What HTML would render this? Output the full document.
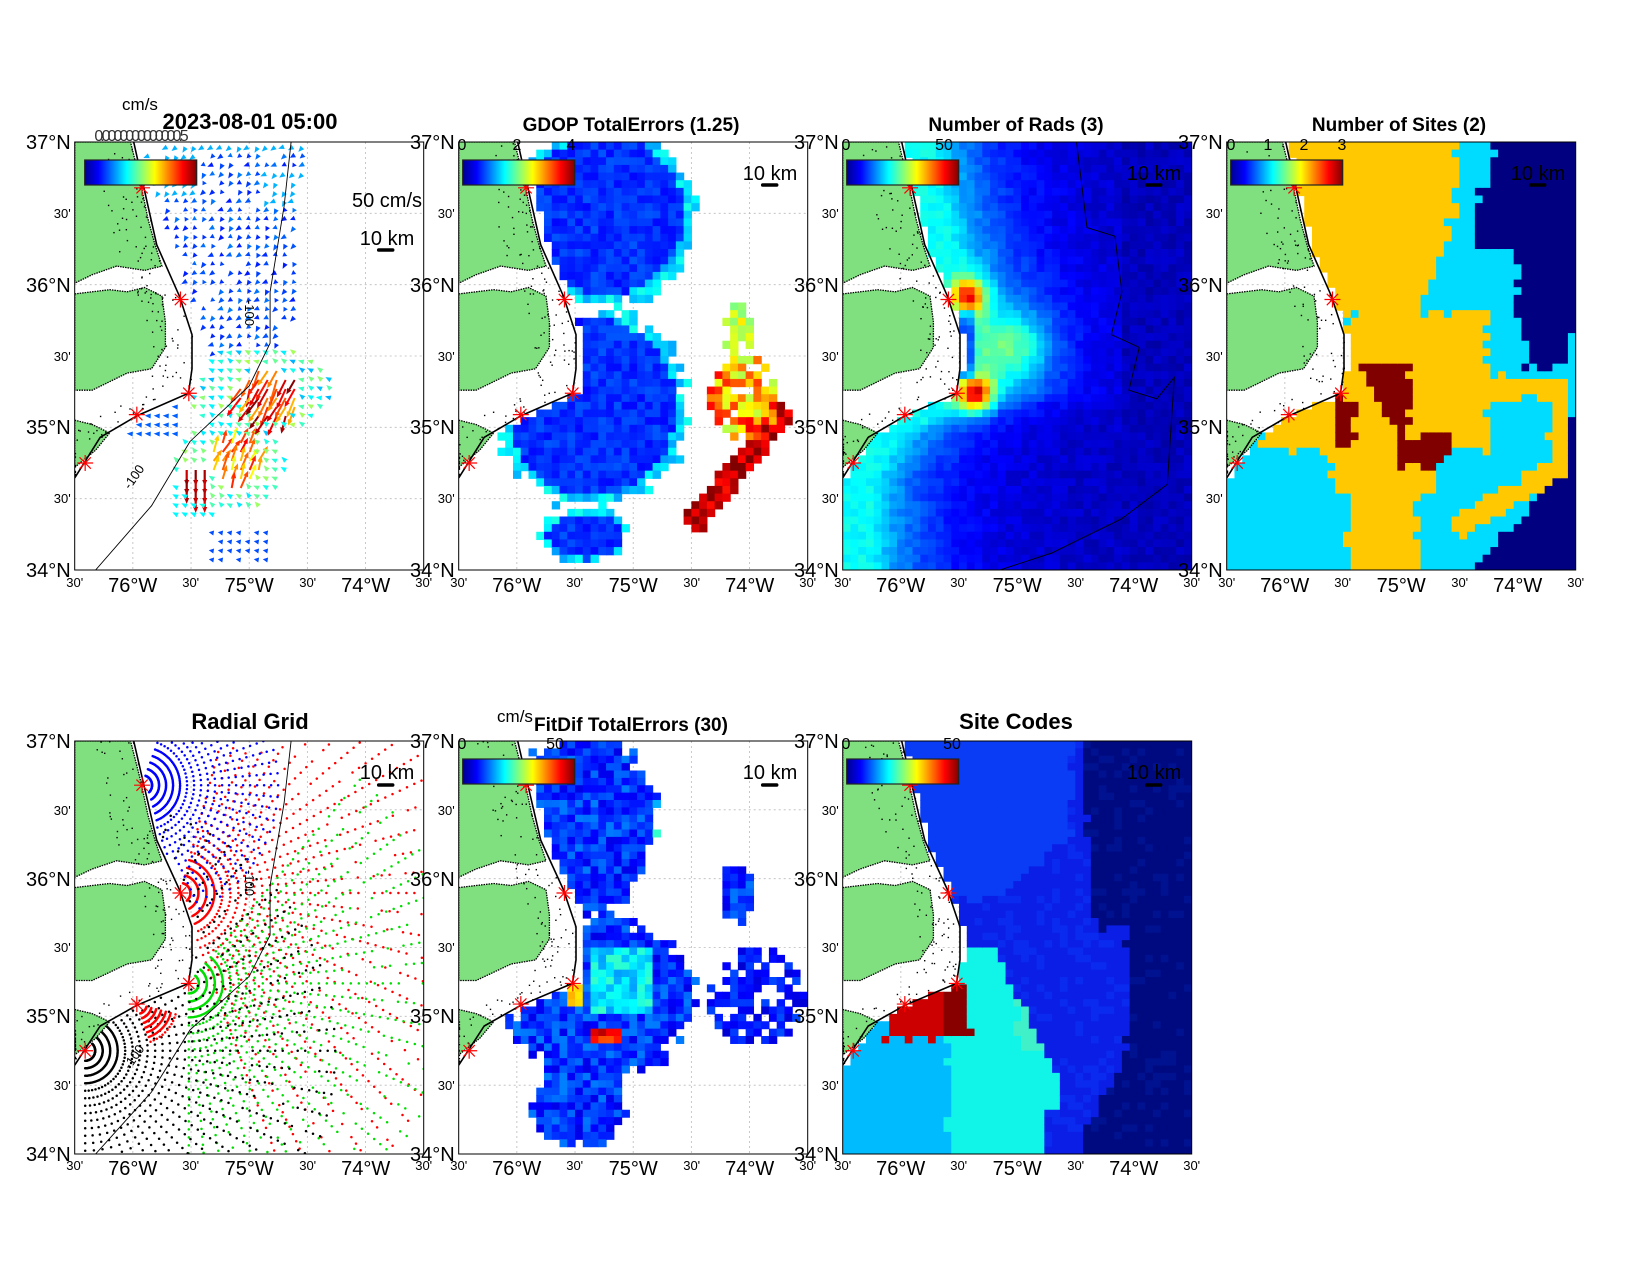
<!DOCTYPE html>
<html><head><meta charset="utf-8"><style>
html,body{margin:0;padding:0;background:#fff;}
svg{display:block;font-family:"Liberation Sans",sans-serif;}
.t{font-weight:bold;font-size:20px;text-anchor:middle;}
.yl{font-size:20px;text-anchor:end;}
.ys{font-size:13px;text-anchor:end;}
.xl{font-size:20px;text-anchor:middle;}
.xs{font-size:13px;text-anchor:middle;}
.km{font-size:20px;text-anchor:middle;}
.cb{font-size:16px;text-anchor:middle;}
</style></head><body>
<svg id="s" width="1650" height="1275" viewBox="0 0 1650 1275" xmlns="http://www.w3.org/2000/svg">
<defs>
<linearGradient id="jet" x1="0" x2="1" y1="0" y2="0">
<stop offset="0" stop-color="#00008f"/><stop offset="0.125" stop-color="#0000ff"/><stop offset="0.375" stop-color="#00ffff"/><stop offset="0.625" stop-color="#ffff00"/><stop offset="0.875" stop-color="#ff0000"/><stop offset="1" stop-color="#800000"/>
</linearGradient>
</defs>
<g id="gfx"></g>
<g id="txt">
<text class="t" x="250" y="129" style="font-size:22px">2023-08-01 05:00</text>
<text x="140" y="110" style="font-size:17px;text-anchor:middle">cm/s</text>
<text x="140" y="141" style="font-size:16px;text-anchor:middle;fill:#333;letter-spacing:-3px">0.0000000000000.5</text>
<text class="t" x="631" y="131" style="font-size:19px">GDOP TotalErrors (1.25)</text>
<text class="t" x="1016" y="131" style="font-size:19px">Number of Rads (3)</text>
<text class="t" x="1399" y="131" style="font-size:19px">Number of Sites (2)</text>
<text class="t" x="250" y="729" style="font-size:22px">Radial Grid</text>
<text class="t" x="631" y="731" style="font-size:19px">FitDif TotalErrors (30)</text>
<text x="515" y="722" style="font-size:17px;text-anchor:middle">cm/s</text>
<text class="t" x="1016" y="729" style="font-size:22px">Site Codes</text>
<text class="cb" x="462" y="150">0</text><text class="cb" x="517" y="150">2</text><text class="cb" x="571" y="150">4</text>
<text class="cb" x="846" y="150">0</text><text class="cb" x="944" y="150">50</text>
<text class="cb" x="1231" y="150">0</text><text class="cb" x="1268" y="150">1</text><text class="cb" x="1304" y="150">2</text><text class="cb" x="1342" y="150">3</text>
<text class="cb" x="462" y="749">0</text><text class="cb" x="555" y="749">50</text>
<text class="cb" x="846" y="749">0</text><text class="cb" x="952" y="749">50</text>
<text class="km" x="387" y="207">50 cm/s</text>
<text class="km" x="387" y="245">10 km</text>
<text class="km" x="770" y="180">10 km</text>
<text class="km" x="1154" y="180">10 km</text>
<text class="km" x="1538" y="180">10 km</text>
<text class="km" x="387" y="779">10 km</text>
<text class="km" x="770" y="779">10 km</text>
<text class="km" x="1154" y="779">10 km</text>
<g transform="translate(74.7,142)"><text class="yl" x="-4" y="7">37°N</text><text class="ys" x="-4" y="76">30'</text><text class="yl" x="-4" y="150">36°N</text><text class="ys" x="-4" y="219">30'</text><text class="yl" x="-4" y="292">35°N</text><text class="ys" x="-4" y="361">30'</text><text class="yl" x="-4" y="435">34°N</text></g>
<g transform="translate(458.7,142)"><text class="yl" x="-4" y="7">37°N</text><text class="ys" x="-4" y="76">30'</text><text class="yl" x="-4" y="150">36°N</text><text class="ys" x="-4" y="219">30'</text><text class="yl" x="-4" y="292">35°N</text><text class="ys" x="-4" y="361">30'</text><text class="yl" x="-4" y="435">34°N</text></g>
<g transform="translate(842.7,142)"><text class="yl" x="-4" y="7">37°N</text><text class="ys" x="-4" y="76">30'</text><text class="yl" x="-4" y="150">36°N</text><text class="ys" x="-4" y="219">30'</text><text class="yl" x="-4" y="292">35°N</text><text class="ys" x="-4" y="361">30'</text><text class="yl" x="-4" y="435">34°N</text></g>
<g transform="translate(1226.7,142)"><text class="yl" x="-4" y="7">37°N</text><text class="ys" x="-4" y="76">30'</text><text class="yl" x="-4" y="150">36°N</text><text class="ys" x="-4" y="219">30'</text><text class="yl" x="-4" y="292">35°N</text><text class="ys" x="-4" y="361">30'</text><text class="yl" x="-4" y="435">34°N</text></g>
<g transform="translate(74.7,741)"><text class="yl" x="-4" y="7">37°N</text><text class="ys" x="-4" y="74">30'</text><text class="yl" x="-4" y="145">36°N</text><text class="ys" x="-4" y="211">30'</text><text class="yl" x="-4" y="282">35°N</text><text class="ys" x="-4" y="349">30'</text><text class="yl" x="-4" y="420">34°N</text></g>
<g transform="translate(458.7,741)"><text class="yl" x="-4" y="7">37°N</text><text class="ys" x="-4" y="74">30'</text><text class="yl" x="-4" y="145">36°N</text><text class="ys" x="-4" y="211">30'</text><text class="yl" x="-4" y="282">35°N</text><text class="ys" x="-4" y="349">30'</text><text class="yl" x="-4" y="420">34°N</text></g>
<g transform="translate(842.7,741)"><text class="yl" x="-4" y="7">37°N</text><text class="ys" x="-4" y="74">30'</text><text class="yl" x="-4" y="145">36°N</text><text class="ys" x="-4" y="211">30'</text><text class="yl" x="-4" y="282">35°N</text><text class="ys" x="-4" y="349">30'</text><text class="yl" x="-4" y="420">34°N</text></g>
<g transform="translate(74.7,142)"><text class="xs" x="0" y="445">30'</text><text class="xl" x="58" y="450">76°W</text><text class="xs" x="116" y="445">30'</text><text class="xl" x="174.5" y="450">75°W</text><text class="xs" x="233" y="445">30'</text><text class="xl" x="291" y="450">74°W</text><text class="xs" x="349" y="445">30'</text></g>
<g transform="translate(458.7,142)"><text class="xs" x="0" y="445">30'</text><text class="xl" x="58" y="450">76°W</text><text class="xs" x="116" y="445">30'</text><text class="xl" x="174.5" y="450">75°W</text><text class="xs" x="233" y="445">30'</text><text class="xl" x="291" y="450">74°W</text><text class="xs" x="349" y="445">30'</text></g>
<g transform="translate(842.7,142)"><text class="xs" x="0" y="445">30'</text><text class="xl" x="58" y="450">76°W</text><text class="xs" x="116" y="445">30'</text><text class="xl" x="174.5" y="450">75°W</text><text class="xs" x="233" y="445">30'</text><text class="xl" x="291" y="450">74°W</text><text class="xs" x="349" y="445">30'</text></g>
<g transform="translate(1226.7,142)"><text class="xs" x="0" y="445">30'</text><text class="xl" x="58" y="450">76°W</text><text class="xs" x="116" y="445">30'</text><text class="xl" x="174.5" y="450">75°W</text><text class="xs" x="233" y="445">30'</text><text class="xl" x="291" y="450">74°W</text><text class="xs" x="349" y="445">30'</text></g>
<g transform="translate(74.7,741)"><text class="xs" x="0" y="429">30'</text><text class="xl" x="58" y="434">76°W</text><text class="xs" x="116" y="429">30'</text><text class="xl" x="174.5" y="434">75°W</text><text class="xs" x="233" y="429">30'</text><text class="xl" x="291" y="434">74°W</text><text class="xs" x="349" y="429">30'</text></g>
<g transform="translate(458.7,741)"><text class="xs" x="0" y="429">30'</text><text class="xl" x="58" y="434">76°W</text><text class="xs" x="116" y="429">30'</text><text class="xl" x="174.5" y="434">75°W</text><text class="xs" x="233" y="429">30'</text><text class="xl" x="291" y="434">74°W</text><text class="xs" x="349" y="429">30'</text></g>
<g transform="translate(842.7,741)"><text class="xs" x="0" y="429">30'</text><text class="xl" x="58" y="434">76°W</text><text class="xs" x="116" y="429">30'</text><text class="xl" x="174.5" y="434">75°W</text><text class="xs" x="233" y="429">30'</text><text class="xl" x="291" y="434">74°W</text><text class="xs" x="349" y="429">30'</text></g>
<text x="245" y="300" style="font-size:13px" transform="rotate(90 245 300)">-100</text>
<text x="130" y="490" style="font-size:13px" transform="rotate(-55 130 490)">-100</text>
<text x="245" y="870" style="font-size:13px" transform="rotate(90 245 870)">-100</text>
<text x="130" y="1070" style="font-size:13px" transform="rotate(-55 130 1070)">-100</text>
</g>
</svg>
<script>
(function(){
const NS='http://www.w3.org/2000/svg';
const root=document.getElementById('gfx');
const defs=document.querySelector('defs');
function el(tag,a,p){const e=document.createElementNS(NS,tag);for(const k in a)e.setAttribute(k,a[k]);(p||root).appendChild(e);return e;}
let seed=12345;function rnd(){seed=(seed*16807)%2147483647;return (seed-1)/2147483646;}
function jet(t){t=Math.max(0,Math.min(1,t));const c=v=>Math.max(0,Math.min(1,v));const r=c(1.5-Math.abs(4*t-3)),g=c(1.5-Math.abs(4*t-2)),b=c(1.5-Math.abs(4*t-1));return 'rgb('+(r*255|0)+','+(g*255|0)+','+(b*255|0)+')';}
const C=[[0.169,0],[0.197,0.103],[0.235,0.24],[0.30,0.36],[0.336,0.45],[0.336,0.53],[0.326,0.587],[0.178,0.64],[0.073,0.69],[0,0.785]];
function coastX(fy){if(fy>0.785)return -1;for(let i=0;i<C.length-1;i++){const a=C[i],b=C[i+1];if(fy>=a[1]&&fy<=b[1]){return a[0]+(b[0]-a[0])*(fy-a[1])/(b[1]-a[1]);}}return -1;}
function water(fx,fy,m){return fx>coastX(fy)+(m||0.02);}
const W=349;
const P=[{x:74.7,y:142,h:428},{x:458.7,y:142,h:428},{x:842.7,y:142,h:428},{x:1226.7,y:142,h:428},{x:74.7,y:741,h:413},{x:458.7,y:741,h:413},{x:842.7,y:741,h:413}];
const L1=[[0,0],[0.16,0],[0.175,0.05],[0.19,0.1],[0.21,0.18],[0.23,0.24],[0.25,0.29],[0.2,0.3],[0.12,0.29],[0.05,0.31],[0,0.33]];
const L2=[[0,0.355],[0.05,0.35],[0.1,0.345],[0.15,0.35],[0.2,0.34],[0.25,0.36],[0.26,0.42],[0.26,0.48],[0.22,0.53],[0.15,0.54],[0.1,0.56],[0.05,0.58],[0,0.58]];
const L3=[[0,0.65],[0.05,0.66],[0.1,0.68],[0.06,0.72],[0,0.76]];
const BATH=[[0.62,0],[0.60,0.15],[0.56,0.35],[0.56,0.47],[0.5,0.57],[0.33,0.7],[0.22,0.85],[0.06,1.0]];
const STARS=[[0.193,0.107],[0.303,0.368],[0.327,0.587],[0.178,0.637],[0.03,0.75]];
function blob(fx,fy,cx,cy,rx,ry){const dx=(fx-cx)/rx,dy=(fy-cy)/ry;return dx*dx+dy*dy;}
function pts(arr,p){return arr.map(q=>(p.x+q[0]*W).toFixed(1)+','+(p.y+q[1]*p.h).toFixed(1)).join(' ');}
function heat(p,g,fn,nx,ny){const cw=W/nx,ch=p.h/ny;for(let i=0;i<nx;i++)for(let j=0;j<ny;j++){const fx=(i+0.5)/nx,fy=(j+0.5)/ny;const c=fn(fx,fy);if(c)el('rect',{x:(p.x+i*cw).toFixed(2),y:(p.y+j*ch).toFixed(2),width:(cw+0.6).toFixed(2),height:(ch+0.6).toFixed(2),fill:c},g);}}

function base(k,opts,draw){const p=P[k];const cid='c'+k;const cp=el('clipPath',{id:cid},defs);el('rect',{x:p.x,y:p.y,width:W,height:p.h},cp);
 const g=el('g',{'clip-path':'url(#'+cid+')'});
 for(let i=1;i<6;i++){el('line',{x1:p.x+i*W/6,y1:p.y,x2:p.x+i*W/6,y2:p.y+p.h,stroke:'#bbb','stroke-width':0.8,'stroke-dasharray':'2 3'},g);el('line',{x1:p.x,y1:p.y+i*p.h/6,x2:p.x+W,y2:p.y+i*p.h/6,stroke:'#bbb','stroke-width':0.8,'stroke-dasharray':'2 3'},g);}
 if(draw)draw(p,g);
 [L1,L2,L3].forEach(L=>{el('polygon',{points:pts(L,p),fill:'#80e080',stroke:'#000','stroke-width':1.3,'stroke-dasharray':'1.5 1'},g);});
 for(let n=0;n<140;n++){const fy=rnd()*0.78,cx=coastX(fy);const fx=Math.max(0,cx-rnd()*0.12);el('rect',{x:p.x+fx*W,y:p.y+fy*p.h,width:1.4,height:1.4,fill:'#000'},g);}
 el('polyline',{points:pts(C,p),fill:'none',stroke:'#000','stroke-width':1.6},g);
 if(opts.bath)el('polyline',{points:pts(BATH,p),fill:'none',stroke:'#000','stroke-width':0.9},g);
 STARS.forEach(s=>{const x=p.x+s[0]*W,y=p.y+s[1]*p.h;for(let a=0;a<4;a++){const an=a*Math.PI/4;el('line',{x1:x-8*Math.cos(an),y1:y-8*Math.sin(an),x2:x+8*Math.cos(an),y2:y+8*Math.sin(an),stroke:'#f00','stroke-width':1.2},g);}});
 if(opts.cb!==false){const ox=opts.cbx||4;el('rect',{x:p.x+ox,y:p.y+18,width:112,height:25,fill:'url(#jet)',stroke:'#222','stroke-width':1.2});}
 if(opts.bar)el('line',{x1:p.x+W-45,y1:p.y+opts.bar,x2:p.x+W-31,y2:p.y+opts.bar,stroke:'#000','stroke-width':3.5,'stroke-linecap':'round'});
 el('rect',{x:p.x,y:p.y,width:W,height:p.h,fill:'none',stroke:'#000','stroke-width':1});
}

base(0,{bath:true,cbx:10,bar:108},function(p,g){
 function arrow(x,y,ang,len,col,w){const dx=Math.cos(ang),dy=Math.sin(ang);const tx=x+dx*len,ty=y+dy*len;
  if(len>9)el('line',{x1:x,y1:y,x2:tx-dx*4,y2:ty-dy*4,stroke:col,'stroke-width':w},g);
  const hx=tx-dx*Math.min(6,len),hy=ty-dy*Math.min(6,len);
  el('polygon',{points:tx.toFixed(1)+','+ty.toFixed(1)+' '+(hx-dy*2.5).toFixed(1)+','+(hy+dx*2.5).toFixed(1)+' '+(hx+dy*2.5).toFixed(1)+','+(hy-dx*2.5).toFixed(1),fill:col},g);}
 for(let gx=4;gx<W;gx+=9)for(let gy=4;gy<p.h;gy+=9){const fx=gx/W,fy=gy/p.h;if(!water(fx,fy,0.04))continue;
  const x=p.x+gx,y=p.y+gy;
  const s1=blob(fx,fy,0.53,0.58,0.2,0.1),s2=blob(fx,fy,0.45,0.76,0.15,0.1);
  if(s1<1.1){const hot=blob(fx,fy,0.56,0.59,0.09,0.06)<1;if(hot)arrow(x,y,1.75+rnd()*0.5,16+rnd()*8,jet(0.65+rnd()*0.35),2);else arrow(x,y,3.3+rnd()*0.6,6,jet(0.3+rnd()*0.25),1);continue;}
  if(s2<1.1){const hot=blob(fx,fy,0.46,0.75,0.07,0.06)<1;const red=fx>0.3&&fx<0.39&&fy>0.75&&fy<0.83;if(red)arrow(x,y,1.57,16,jet(0.9+rnd()*0.1),2.2);else if(hot)arrow(x,y,-1.4+rnd()*0.5,14+rnd()*6,jet(0.6+rnd()*0.3),2);else arrow(x,y,3.5+rnd()*0.6,6,jet(0.35+rnd()*0.2),1);continue;}
  if(fy<0.55&&fx>0.2&&fx<(fy<0.1?0.68:0.64)&&!(fy>0.42&&(fx<0.3||fx>0.58))){if(rnd()<0.12)continue;const strong=(fy<0.03)||(fy>0.07&&fy<0.14&&fx>0.55)||(fy<0.12&&fx<0.35);arrow(x,y,2.0+rnd()*0.8,strong?8:4+rnd()*3,jet(strong?0.3:0.15+rnd()*0.1),1);continue;}
  if(fx>0.16&&fx<0.3&&fy>0.6&&fy<0.69){arrow(x,y,3.2,6,jet(0.22),1);continue;}
  if(fx>0.28&&fx<0.42&&fy>0.8&&fy<0.88){arrow(x,y,3.6,6,jet(0.37),1);continue;}
  if(fx>0.38&&fx<0.56&&fy>0.91&&fy<0.98&&rnd()>0.3){arrow(x,y,3.3,5,jet(0.2),1);continue;}
 }
});

base(1,{bar:43},function(p,g){seed=777;heat(p,g,function(fx,fy){if(!water(fx,fy,0.02))return null;const n=rnd()*0.35;
 const a=blob(fx,fy,0.42,0.17,0.25,0.21),b=blob(fx,fy,0.38,0.62,0.27,0.23),c=blob(fx,fy,0.36,0.92,0.12,0.06);
 const m=Math.min(a,b,c);
 if(m<1+n-0.15){return jet(m>0.8?0.28+rnd()*0.12:0.13+rnd()*0.08);}
 const d=blob(fx,fy,0.82,0.6,0.1,0.1);if(d<1&&rnd()>0.2)return jet(0.55+rnd()*0.35);
 const f=blob(fx,fy,0.8,0.45,0.04,0.07);if(f<1&&rnd()>0.3)return jet(0.5+rnd()*0.15);
 const t=((fx-0.66)*0.28+(fy-0.9)*(-0.28))/(0.28*0.28*2);const px=0.66+t*0.28,py=0.9-t*0.28;
 if(t>0&&t<1){const dd=Math.hypot(fx-px,fy-py);if(dd<0.03)return jet(0.85+rnd()*0.15);}
 return null;},45,56);});

base(2,{bar:43},function(p,g){seed=999;heat(p,g,function(fx,fy){if(!water(fx,fy,0.01))return null;const cx=Math.max(coastX(fy),0);const d=fx-cx;
 let t=0.06+0.32*Math.exp(-Math.max(0,d-0.08)/0.18)*(d<0.05&&fy>0.4&&fy<0.55?0.4:1);
 t+=0.5*Math.exp(-blob(fx,fy,0.36,0.36,0.05,0.04))+0.55*Math.exp(-blob(fx,fy,0.38,0.59,0.05,0.04))+0.2*Math.exp(-blob(fx,fy,0.5,0.48,0.1,0.08));
 if(fx>0.8)t=Math.min(t,0.06);t+=(rnd()-0.5)*0.05;return jet(t);},45,56);
 el('polyline',{points:pts([[0.67,0],[0.7,0.2],[0.78,0.22],[0.8,0.35],[0.77,0.45],[0.85,0.48],[0.82,0.58],[0.9,0.6],[0.95,0.55],[0.93,0.8],[0.8,0.88],[0.6,0.96],[0.45,1]],p),fill:'none',stroke:'#000','stroke-width':0.9},g);});

base(3,{bar:43},function(p,g){seed=4242;const OR='#ffc800',CY='#00dcff',NV='#000080',DR='#800000';heat(p,g,function(fx0,fy0){const fx=fx0+(rnd()-0.5)*0.02,fy=fy0+(rnd()-0.5)*0.015;if(!water(fx0,fy0,0.01))return null;
 if((fx>0.38&&fx<0.53&&fy>0.52&&fy<0.67&&fx>0.38+(fy-0.52)*0.6)||(fx>0.31&&fx<0.37&&fy>0.6&&fy<0.72)||(fx>0.5&&fx<0.63&&fy>0.69&&fy<0.76))return DR;
 let nav=false;if(fy<0.1)nav=fx>0.76;else if(fy<0.25)nav=fx>0.72;else if(fy<0.45)nav=fx>0.83;else if(fy<0.53)nav=fx>0.86&&fx<0.97;if(fy>0.64&&fx>0.98)nav=true;if(fy>0.75&&fx>1-(fy-0.75)*1.2)nav=true;if(nav)return NV;
 if(fy<0.4&&fx<0.66-0.45*Math.max(0,fy-0.15))return OR;
 if(fy>=0.4&&fy<0.72&&fx<0.75&&fx>0.35-(fy-0.43)*1.0)return OR;
 if(fy>=0.7&&fy<0.82&&fx>0.3&&fx<0.6)return OR;
 if(fy>=0.82&&fx>0.35&&fx<0.55)return OR;
 if((fy>0.55&&fy<0.6&&fx>0.75&&fx<0.98)||(fx>0.93&&fx<0.98&&fy>0.55&&fy<0.75))return OR;
 const t=((fx-0.98)*(-0.33)+(fy-0.75)*0.15)/(0.33*0.33+0.15*0.15);if(t>0&&t<1&&Math.hypot(fx-(0.98-0.33*t),fy-(0.75+0.15*t))<0.025)return OR;
 return CY;},45,56);});

base(4,{bath:true,cb:false,bar:44},function(p,g){seed=55;
 const S=[{i:1,c:'#ff0000',a0:-75,a1:70,rm:330,rs:8,as:5},{i:2,c:'#00dd00',a0:-50,a1:90,rm:270,rs:8,as:5},{i:4,c:'#000000',a0:-90,a1:90,rm:250,rs:7.5,as:5},{i:0,c:'#0000ff',a0:-70,a1:80,rm:140,rs:7,as:5},{i:3,c:'#ff0000',a0:15,a1:70,rm:40,rs:5,as:5}];
 S.forEach(s=>{const sx=p.x+STARS[s.i][0]*W,sy=p.y+STARS[s.i][1]*p.h;for(let r=10;r<=s.rm;r+=s.rs){const st=Math.max(s.as,Math.min(s.as,1))*(r<40?0.5:1);for(let a=s.a0;a<=s.a1;a+=st){const an=a*Math.PI/180;const x=sx+r*Math.cos(an),y=sy+r*Math.sin(an);const fx=(x-p.x)/W,fy=(y-p.y)/p.h;if(fx<0||fx>1.05||fy<0||fy>1)continue;if(!water(fx,fy,0.01))continue;if(r>150&&rnd()<0.2)continue;el('circle',{cx:x.toFixed(1),cy:y.toFixed(1),r:1.25,fill:s.c},g);}}});});

base(5,{bar:44},function(p,g){seed=31337;heat(p,g,function(fx,fy){if(!water(fx,fy,0.02))return null;const n=rnd()*0.4;
 const a=blob(fx,fy,0.36,0.2,0.2,0.22),b=blob(fx,fy,0.4,0.62,0.26,0.2),c=blob(fx,fy,0.34,0.88,0.13,0.1),e=blob(fx,fy,0.8,0.37,0.05,0.07);
 const m=Math.min(a,b,c,e);
 if(m<1+n-0.2){if(fx>0.3&&fx<0.36&&fy>0.57&&fy<0.65)return jet(0.6+rnd()*0.1);if(fx>0.38&&fx<0.46&&fy>0.69&&fy<0.74)return jet(0.75+rnd()*0.2);
  if((fx>0.38&&fx<0.55&&fy>0.5&&fy<0.66)||(fx>0.55&&fx<0.62&&fy>0.15&&fy<0.3))return jet(0.28+rnd()*0.15);return jet(0.1+rnd()*0.15);}
 const d=blob(fx,fy,0.85,0.62,0.14,0.12);if(d<1&&rnd()>0.35)return jet(0.08+rnd()*0.12);
 return null;},45,56);});

base(6,{bar:44},function(p,g){seed=2024;heat(p,g,function(fx0,fy0){if(!water(fx0,fy0,0.01))return null;const fx=fx0+(rnd()-0.5)*0.02,fy=fy0+(rnd()-0.5)*0.015;
 if(fy>0.58&&fy<0.72&&fx>0.12&&fx<0.36&&fy<0.72)return fx>0.29?'#880000':'#cc0000';
 let nav=false;if(fy<0.45)nav=fx>0.68+fy*0.1;else if(fy<0.75)nav=fx>0.82;else nav=fx>0.82-(fy-0.75)*0.6;if(nav)return (rnd()<0.2?'#00128f':'#000a80');
 if(fy<0.38&&fx<(fy<0.22?0.66:0.66-(fy-0.22)*1.3))return '#0a3cf5';
 if(fy>0.68&&fx<0.3)return '#00bcff';
 if(fy>0.49&&fx>0.3&&fx<Math.min(0.62,0.42+0.6*(fy-0.49))&&!(fy>0.88&&fx>0.58))return (fx>0.5&&fy>0.6&&fy<0.75)?'#40f0c8':'#10f5e8';
 return rnd()<0.3?'#0a2af0':'#0a1ee6';},45,56);});
})();
</script>
</body></html>
